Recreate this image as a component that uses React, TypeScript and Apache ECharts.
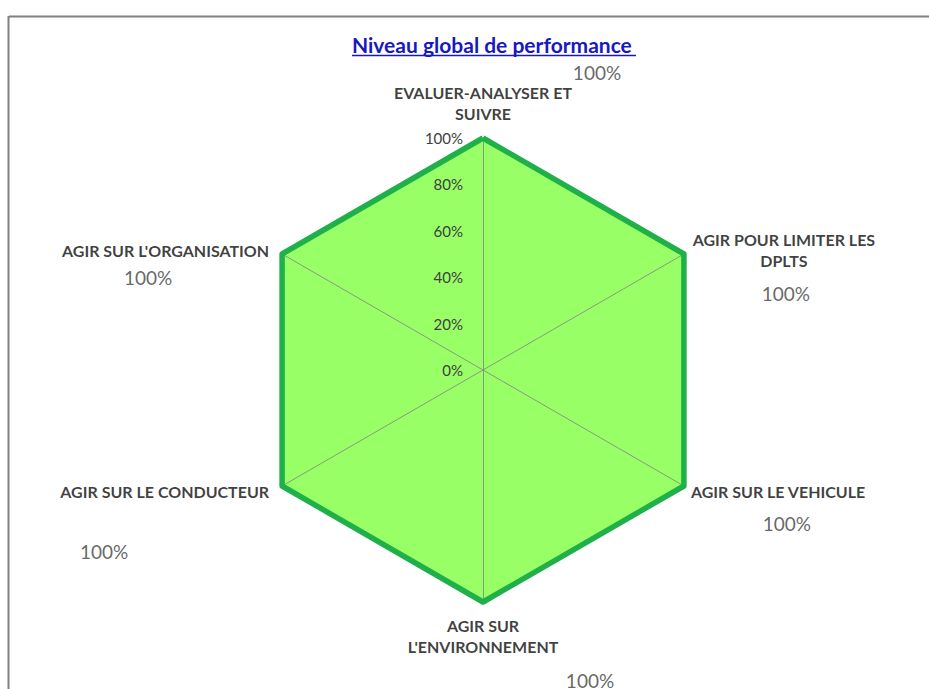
import React, { useEffect, useRef } from "react";
import * as echarts from "echarts";

// ---- data ----
const TITLE = "Niveau global de performance";
const categories = [
  "EVALUER-ANALYSER ET\nSUIVRE",
  "AGIR POUR LIMITER LES\nDPLTS",
  "AGIR SUR LE VEHICULE",
  "AGIR SUR\nL'ENVIRONNEMENT",
  "AGIR SUR LE CONDUCTEUR",
  "AGIR SUR L'ORGANISATION",
];
const values = [1, 1, 1, 1, 1, 1];
const scaleTicks = [0, 0.2, 0.4, 0.6, 0.8, 1];

// ---- layout (styling only) ----
const CENTER = [483, 370];
const RADIUS = 232;
const nameLayout: { offset: number[]; align: string }[] = [
  { offset: [0, -35], align: "center" },
  { offset: [100, -4], align: "center" },
  { offset: [7, 5], align: "left" },
  { offset: [0, 34], align: "center" },
  { offset: [-13, 5], align: "right" },
  { offset: [-13, -4], align: "right" },
];
const valueLayout = [
  [114, -66],
  [102, 39],
  [103, 37],
  [107, 78],
  [-178, 65],
  [-134, 23],
];

const FONT = "Lato, 'Open Sans', sans-serif";
const GREEN_LINE = "#1fb04a";
const pct = (v: number) => `${Math.round(v * 100)}%`;

export default function App() {
  const ref = useRef<HTMLDivElement>(null);
  useEffect(() => {
    if (!ref.current) return;
    const chart = echarts.init(ref.current, undefined, { renderer: "svg" });
    // radar indicators run counter-clockwise: reorder so the picture reads clockwise
    const order = [0, 5, 4, 3, 2, 1];
    const radarValues = order.map((i) => values[i]);
    const option: any = {
      animation: false,
      backgroundColor: "#ffffff",
      title: {
        text: TITLE,
        left: 352,
        top: 34,
        padding: 0,
        textStyle: { fontFamily: FONT, fontSize: 21, fontWeight: "bold", color: "#1818c0" },
      },
      graphic: [
        { type: "line", shape: { x1: 9, y1: 16.5, x2: 929, y2: 16.5 }, style: { stroke: "#808080", lineWidth: 2 } },
        { type: "line", shape: { x1: 8.5, y1: 16, x2: 8.5, y2: 689 }, style: { stroke: "#808080", lineWidth: 2 } },
        { type: "line", shape: { x1: 352, y1: 55.5, x2: 636, y2: 55.5 }, style: { stroke: "#1818c0", lineWidth: 1.3 } },
      ],
      radar: {
        center: CENTER,
        radius: RADIUS,
        startAngle: 90,
        shape: "polygon",
        splitNumber: 1,
        z: 3,
        indicator: order.map((i) => ({ name: categories[i], min: 0, max: 1 })),
        axisName: { show: false },
        splitLine: { show: false },
        splitArea: { show: false },
        axisLine: { lineStyle: { color: "rgba(130,130,130,0.8)", width: 1 } },
      },
      polar: { center: CENTER, radius: RADIUS },
      angleAxis: {
        type: "category",
        data: categories,
        startAngle: 90,
        clockwise: true,
        boundaryGap: false,
        show: false,
      },
      radiusAxis: {
        type: "value",
        min: scaleTicks[0],
        max: scaleTicks[scaleTicks.length - 1],
        interval: scaleTicks[1] - scaleTicks[0],
        axisLine: { show: false },
        axisTick: { show: false },
        splitLine: { show: false },
        z: 4,
        axisLabel: {
          formatter: (v: number) => pct(v),
          fontFamily: FONT,
          fontSize: 15,
          margin: 20,
          color: "#404040",
        },
      },
      series: [
        {
          type: "radar",
          symbol: "none",
          z: 2,
          lineStyle: { width: 0, opacity: 0 },
          areaStyle: { color: "#99ff66", opacity: 1 },
          data: [{ value: radarValues, name: "Niveau" }],
        },
        {
          type: "radar",
          symbol: "none",
          z: 4,
          lineStyle: { color: GREEN_LINE, width: 5.5 },
          data: [{ value: radarValues, name: "Niveau" }],
        },
        {
          type: "scatter",
          coordinateSystem: "polar",
          symbolSize: 0,
          silent: true,
          z: 5,
          data: categories.map((c, i) => ({
            value: [values[i], i],
            label: {
              show: true,
              position: "inside",
              formatter: c,
              offset: nameLayout[i].offset,
              align: nameLayout[i].align,
              verticalAlign: "middle",
              fontFamily: FONT,
              fontSize: 16,
              fontWeight: "bold",
              color: "#0d0d0d",
              lineHeight: 21,
            },
          })),
        },
        {
          type: "scatter",
          coordinateSystem: "polar",
          symbolSize: 0,
          silent: true,
          z: 5,
          data: values.map((v, i) => ({
            value: [v, i],
            label: {
              show: true,
              position: "inside",
              formatter: pct(v),
              offset: valueLayout[i],
              align: "center",
              verticalAlign: "middle",
              fontFamily: FONT,
              fontSize: 19,
              color: "#404040",
            },
          })),
        },
      ],
    };
    chart.setOption(option);
    return () => chart.dispose();
  }, []);
  return (
    <div
      ref={ref}
      style={{ position: "absolute", left: 0, top: 0, width: 929, height: 689 }}
    />
  );
}
